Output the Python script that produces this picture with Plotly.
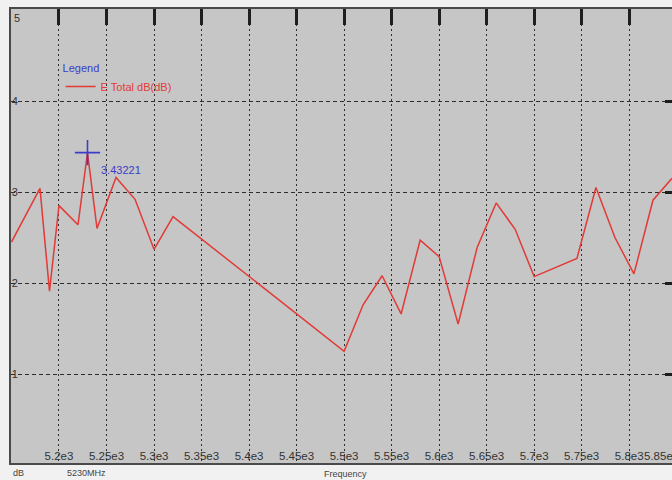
import plotly.graph_objects as go

# ---- data ----
freq_mhz = [5150, 5180, 5190, 5200, 5220, 5230, 5240, 5260, 5280, 5300, 5320,
            5500, 5520, 5540, 5560, 5580, 5600, 5620, 5640, 5660, 5680, 5700,
            5745, 5765, 5785, 5805, 5825, 5845]
e_total_db = [2.45, 3.04, 1.91, 2.85, 2.64, 3.43221, 2.60, 3.16, 2.92, 2.37, 2.73,
              1.25, 1.76, 2.08, 1.66, 2.47, 2.29, 1.55, 2.39, 2.88, 2.59, 2.07,
              2.27, 3.05, 2.50, 2.10, 2.91, 3.15]
x_tickvals = [5200, 5250, 5300, 5350, 5400, 5450, 5500, 5550, 5600, 5650,
              5700, 5750, 5800, 5850]
x_ticktext = ["5.2e3", "5.25e3", "5.3e3", "5.35e3", "5.4e3", "5.45e3", "5.5e3",
              "5.55e3", "5.6e3", "5.65e3", "5.7e3", "5.75e3", "5.8e3", "5.85e3"]
y_tickvals = [1, 2, 3, 4, 5]
y_ticktext = ["1", "2", "3", "4", "5"]
series_name = "E Total dB(dB)"

x_range = [5149.5, 5854.5]
y_range = [0.022, 5.011]

peak_i = max(range(len(e_total_db)), key=lambda i: e_total_db[i])
peak_x, peak_y = freq_mhz[peak_i], e_total_db[peak_i]

RED = "#e23a36"
BLUE = "#3c3cc8"
GRID = "#2e2e2e"
TXT = "#333333"
FONT = "Liberation Sans, Arial, sans-serif"

fig = go.Figure()
fig.add_trace(go.Scatter(x=freq_mhz, y=e_total_db, mode="lines", name=series_name,
                         line=dict(color=RED, width=1.5)))
fig.add_trace(go.Scatter(x=[peak_x], y=[peak_y], mode="markers", showlegend=False,
                         marker=dict(symbol="cross-thin", size=18,
                                     line=dict(color=BLUE, width=1.6))))
# invisible helper trace for the top/right frame axes
fig.add_trace(go.Scatter(x=[freq_mhz[0]], y=[e_total_db[0]], xaxis="x2", yaxis="y2",
                         mode="markers", marker=dict(opacity=0), showlegend=False,
                         hoverinfo="skip"))

# last x label and top y label are pushed inside the frame (as in the original)
x_labels_axis = x_ticktext[:-1] + [""]
y_labels_axis = y_ticktext[:-1] + [""]

fig.update_layout(
    width=681, height=480,
    margin=dict(l=11, r=0, t=9, b=17),
    paper_bgcolor="#f1f1f1",
    plot_bgcolor="#c6c6c6",
    font=dict(family=FONT, size=11, color=TXT),
    showlegend=True,
    legend=dict(x=0.074, y=0.893, xanchor="left", yanchor="top",
                bgcolor="rgba(0,0,0,0)", borderwidth=0,
                title=dict(text="Legend", font=dict(color=BLUE, size=11, family=FONT)),
                font=dict(color=RED, size=11, family=FONT),
                tracegroupgap=0, itemwidth=30),
    xaxis=dict(range=x_range, tickvals=x_tickvals, ticktext=x_labels_axis,
               ticklabelposition="inside", ticks="", showgrid=True,
               ticklabeloverflow="allow",
               gridcolor=GRID, gridwidth=1.4, griddash="2px,3px",
               showline=True, linecolor="#4a4a4a", linewidth=2,
               zeroline=False, tickfont=dict(size=11.5, color=TXT)),
    yaxis=dict(range=y_range, tickvals=y_tickvals, ticktext=y_labels_axis,
               ticklabelposition="inside", ticks="", showgrid=True,
               ticklabeloverflow="allow",
               gridcolor=GRID, gridwidth=1.4, griddash="4px,3px",
               showline=True, linecolor="#4a4a4a", linewidth=2,
               zeroline=False, tickfont=dict(size=11, color=TXT)),
    xaxis2=dict(range=x_range, overlaying="x", side="top", tickvals=x_tickvals,
                showticklabels=False, ticks="inside", ticklen=16, tickwidth=2.5,
                tickcolor="#1e1e1e", showgrid=False, zeroline=False,
                showline=True, linecolor="#4a4a4a", linewidth=2),
    yaxis2=dict(range=y_range, overlaying="y", side="right", tickvals=y_tickvals[:-1],
                showticklabels=False, ticks="inside", ticklen=16, tickwidth=3,
                tickcolor="#1e1e1e", showgrid=False, zeroline=False, showline=False),
)

fig.add_annotation(xref="x domain", yref="paper", x=1, y=0, xanchor="right",
                   yanchor="bottom", yshift=-1, text=x_ticktext[-1], showarrow=False,
                   font=dict(size=11.5, color=TXT, family=FONT))
fig.add_annotation(xref="x domain", yref="y", x=0, y=y_tickvals[-1], xanchor="left",
                   yanchor="top", xshift=1, yshift=0, text=y_ticktext[-1],
                   showarrow=False, font=dict(size=11, color=TXT, family=FONT))
fig.add_annotation(x=peak_x, y=peak_y, text=f"{peak_y:.5f}", showarrow=False,
                   xanchor="left", yanchor="middle", xshift=11, yshift=-17,
                   font=dict(color=BLUE, size=11, family=FONT))
fig.add_annotation(xref="paper", yref="paper", x=0.0, y=0, yanchor="top", xanchor="left",
                   yshift=-3, text="dB", showarrow=False,
                   font=dict(size=9, color="#444444", family=FONT))
fig.add_annotation(xref="paper", yref="paper", x=(65 - 11) / 670, y=0, yanchor="top",
                   xanchor="left", yshift=-3, text=f"{peak_x}MHz", showarrow=False,
                   font=dict(size=9, color="#444444", family=FONT))
fig.add_annotation(xref="paper", yref="paper", x=(345 - 11) / 670, y=0, yanchor="top",
                   xanchor="center", yshift=-4, text="Frequency", showarrow=False,
                   font=dict(size=9, color="#444444", family=FONT))

fig.write_html("out.html", config={"displayModeBar": False},
               post_script="document.body.style.margin='0';"
                           "document.body.style.overflow='hidden';")
